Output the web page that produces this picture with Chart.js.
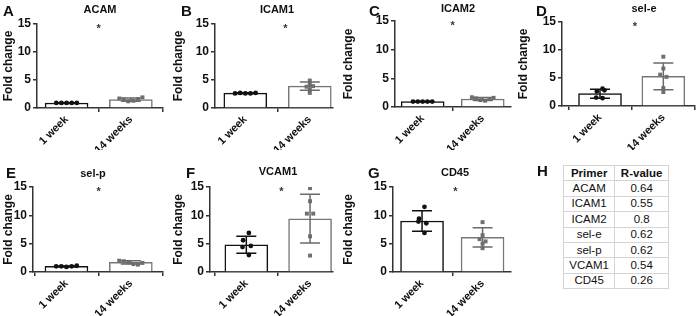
<!DOCTYPE html>
<html>
<head>
<meta charset="utf-8">
<script src="https://cdn.jsdelivr.net/npm/chart.js@4.4.1/dist/chart.umd.min.js"></script>
<style>
body { margin:0; background:#fff; width:699px; height:316px; position:relative; overflow:hidden; font-family:"Liberation Sans", Arial, sans-serif; color:#111; }
.pan { position:absolute; }
.letter { position:absolute; font-weight:bold; font-size:15px; line-height:15px; }
.ttl { position:absolute; font-weight:bold; font-size:11px; transform:translate(-50%,-50%); white-space:nowrap; }
#tbl { position:absolute; left:563px; top:165px; width:106px; border-collapse:collapse; font-size:11.5px; }
#tbl td, #tbl th { border:1px solid #d4d4d4; height:14.4px; padding:0; text-align:center; line-height:13px; }
#tbl th { font-weight:bold; }
</style>
</head>
<body>
<table id="tbl"></table>
<script>
// groupes et axes
var groups = ['1 week', '14 weeks'];
var yTicks = [0, 5, 10, 15];

// A - ACAM
var acamMean = [0.9, 1.5];
var acamSd = [0.05, 0.3];
var acamWk1 = [0.9, 0.9, 0.9, 0.9, 0.9];
var acamWk14 = [1.7, 1.5, 1.2, 1.3, 1.6, 1.9];

// B - ICAM1
var icam1Mean = [2.65, 3.9];
var icam1Sd = [0.08, 0.75];
var icam1Wk1 = [2.6, 2.7, 2.6, 2.6, 2.7];
var icam1Wk14 = [4.9, 4.2, 3.8, 3.9, 3.3, 2.7];

// C - ICAM2
var icam2Mean = [0.95, 1.4];
var icam2Sd = [0.05, 0.25];
var icam2Wk1 = [0.95, 0.95, 0.95, 0.95, 0.95];
var icam2Wk14 = [1.7, 1.5, 1.2, 1.1, 1.4, 1.6];

// D - sel-e
var seleMean = [2.2, 5.3];
var seleSd = [0.8, 2.4];
var seleWk1 = [3.1, 2.6, 2.8, 1.5, 1.4];
var seleWk14 = [8.8, 6.7, 5.6, 5.2, 3.2, 2.5];

// E - sel-p
var selpMean = [1.0, 1.7];
var selpSd = [0.08, 0.3];
var selpWk1 = [1.0, 1.0, 0.9, 1.0, 1.1];
var selpWk14 = [2.0, 1.9, 1.7, 1.4, 1.3, 1.6];

// F - VCAM1
var vcamMean = [4.8, 9.4];
var vcamSd = [1.5, 4.3];
var vcamWk1 = [6.9, 5.6, 4.6, 4.4, 3.0];
var vcamWk14 = [14.8, 12.5, 10.3, 10.3, 6.3, 2.9];

// G - CD45
var cd45Mean = [9.0, 6.1];
var cd45Sd = [1.8, 1.7];
var cd45Wk1 = [11.5, 9.4, 8.6, 8.9, 6.9];
var cd45Wk14 = [8.8, 6.5, 5.8, 5.4, 5.0, 4.2];

// H - tableau
var primers = ['ACAM', 'ICAM1', 'ICAM2', 'sel-e', 'sel-p', 'VCAM1', 'CD45'];
var rValues = ['0.64', '0.55', '0.8', '0.62', '0.62', '0.54', '0.26'];

// décalages horizontaux des points
var rowJit5 = [-0.16, -0.08, 0, 0.08, 0.16];
var rowJit6 = [-0.18, -0.11, -0.04, 0.04, 0.11, 0.18];
var swJit5 = [0.04, -0.05, 0.07, -0.06, 0.04];
var swJit6 = [0, 0, -0.05, 0.05, 0, 0];

var FONT = '"Liberation Sans", Arial, sans-serif';
Chart.defaults.font.family = FONT;
Chart.defaults.color = '#111';

function pts(vals, jit, x0) {
    return vals.map(function(v, i) { return { x: x0 + jit[i], y: v }; });
}

function makePanel(p) {
    var box = p.box, area = p.area;
    var div = document.createElement('div');
    div.className = 'pan';
    div.style.left = box[0] + 'px'; div.style.top = box[1] + 'px';
    div.style.width = box[2] + 'px'; div.style.height = box[3] + 'px';
    var cv = document.createElement('canvas');
    div.appendChild(cv);
    document.body.appendChild(div);

    var lt = document.createElement('div');
    lt.className = 'letter'; lt.textContent = p.letter;
    lt.style.left = p.letterPos[0] + 'px'; lt.style.top = p.letterPos[1] + 'px';
    document.body.appendChild(lt);

    var tt = document.createElement('div');
    tt.className = 'ttl'; tt.textContent = p.title;
    tt.style.left = p.titlePos[0] + 'px'; tt.style.top = p.titlePos[1] + 'px';
    document.body.appendChild(tt);

    // barres d'erreur + astérisque
    var errPlugin = {
        id: 'errbars',
        afterDatasetsDraw: function(chart) {
            var ctx = chart.ctx, xs = chart.scales.x, ys = chart.scales.y;
            ctx.save();
            ctx.lineWidth = 1.5;
            for (var i = 0; i < 2; i++) {
                var cx = xs.getPixelForValue(i);
                var t = ys.getPixelForValue(p.mean[i] + p.sd[i]);
                var b = ys.getPixelForValue(p.mean[i] - p.sd[i]);
                ctx.strokeStyle = i ? '#6a6a6a' : '#111';
                ctx.beginPath();
                ctx.moveTo(cx, t); ctx.lineTo(cx, b);
                ctx.moveTo(cx - 10, t); ctx.lineTo(cx + 10, t);
                ctx.moveTo(cx - 10, b); ctx.lineTo(cx + 10, b);
                ctx.stroke();
            }
            ctx.fillStyle = '#333';
            ctx.font = 'bold 11px ' + FONT;
            ctx.textAlign = 'center';
            ctx.textBaseline = 'middle';
            ctx.fillText('*', xs.getPixelForValue(p.starX), ys.getPixelForValue(14.2));
            ctx.restore();
        }
    };

    new Chart(cv, {
        type: 'bar',
        data: {
            datasets: [{
                type: 'bar',
                data: [{ x: 0, y: p.mean[0] }, { x: 1, y: p.mean[1] }],
                backgroundColor: '#fff',
                borderColor: ['#111', '#777'],
                borderWidth: 1.5,
                borderSkipped: 'bottom',
                barThickness: 43,
                order: 3
            }, {
                type: 'scatter',
                data: pts(p.wk1, p.jit1, 0),
                pointStyle: 'circle',
                pointRadius: 2.4,
                backgroundColor: '#111',
                borderColor: '#111',
                borderWidth: 0,
                order: 1
            }, {
                type: 'scatter',
                data: pts(p.wk14, p.jit14, 1),
                pointStyle: 'rect',
                pointRadius: 2.8,
                backgroundColor: '#6f6f6f',
                borderColor: '#6f6f6f',
                borderWidth: 0,
                order: 2
            }]
        },
        options: {
            responsive: true, maintainAspectRatio: false,
            animation: false,
            layout: { padding: { left: 0, top: area[1] - box[1], right: box[0] + box[2] - area[2], bottom: 0 } },
            plugins: { legend: { display: false }, tooltip: { enabled: false } },
            scales: {
                x: {
                    type: 'linear', min: p.xr[0], max: p.xr[1], offset: false,
                    afterBuildTicks: function(s) { s.ticks = [{ value: 0 }, { value: 1 }]; },
                    afterFit: function(s) { s.height = box[1] + box[3] - area[3]; },
                    ticks: {
                        autoSkip: false, minRotation: 45, maxRotation: 45, padding: 1,
                        font: { size: 11, weight: 'bold' }, color: '#111',
                        callback: function(v) { return groups[v]; }
                    },
                    grid: { drawOnChartArea: false, drawTicks: true, tickLength: 4, color: '#333', lineWidth: 1.5 },
                    border: { color: '#333', width: 1.5 }
                },
                y: {
                    min: 0, max: 15,
                    afterBuildTicks: function(s) { s.ticks = yTicks.map(function(v) { return { value: v }; }); },
                    afterFit: function(s) { s.width = area[0] - box[0]; },
                    ticks: { font: { size: 12, weight: 'bold' }, color: '#111', padding: 2 },
                    grid: { drawOnChartArea: false, drawTicks: true, tickLength: 4, color: '#333', lineWidth: 1.5 },
                    border: { color: '#333', width: 1.5 },
                    title: { display: true, text: 'Fold change', font: { size: 12, weight: 'bold' }, color: '#111', padding: 1 }
                }
            }
        },
        plugins: [errPlugin]
    });
}

makePanel({ letter: 'A', letterPos: [3, 3], title: 'ACAM', titlePos: [100, 9],
    box: [0, 0, 170, 150], area: [37, 24, 163, 108], xr: [-0.46, 1.5],
    mean: acamMean, sd: acamSd, wk1: acamWk1, wk14: acamWk14, jit1: rowJit5, jit14: rowJit6, starX: 0.5 });
makePanel({ letter: 'B', letterPos: [181, 3], title: 'ICAM1', titlePos: [277, 9],
    box: [170, 0, 170, 150], area: [215, 24, 333, 108], xr: [-0.47, 1.36],
    mean: icam1Mean, sd: icam1Sd, wk1: icam1Wk1, wk14: icam1Wk14, jit1: rowJit5, jit14: swJit6, starX: 0.62 });
makePanel({ letter: 'C', letterPos: [369, 3], title: 'ICAM2', titlePos: [458, 8],
    box: [340, 0, 175, 150], area: [395, 21, 521, 107], xr: [-0.46, 1.47],
    mean: icam2Mean, sd: icam2Sd, wk1: icam2Wk1, wk14: icam2Wk14, jit1: rowJit5, jit14: rowJit6, starX: 0.5 });
makePanel({ letter: 'D', letterPos: [536, 3], title: 'sel-e', titlePos: [644, 8],
    box: [515, 0, 184, 150], area: [562, 22, 697, 106], xr: [-0.6, 1.5],
    mean: seleMean, sd: seleSd, wk1: seleWk1, wk14: seleWk14, jit1: swJit5, jit14: swJit6, starX: 0.55 });
makePanel({ letter: 'E', letterPos: [6, 165], title: 'sel-p', titlePos: [93, 173],
    box: [0, 150, 170, 166], area: [33, 187, 163, 272], xr: [-0.52, 1.5],
    mean: selpMean, sd: selpSd, wk1: selpWk1, wk14: selpWk14, jit1: rowJit5, jit14: rowJit6, starX: 0.5 });
makePanel({ letter: 'F', letterPos: [186, 165], title: 'VCAM1', titlePos: [278, 171],
    box: [170, 150, 170, 166], area: [210, 187, 333, 272], xr: [-0.57, 1.36],
    mean: vcamMean, sd: vcamSd, wk1: vcamWk1, wk14: vcamWk14, jit1: swJit5, jit14: swJit6, starX: 0.55 });
makePanel({ letter: 'G', letterPos: [368, 165], title: 'CD45', titlePos: [455, 172],
    box: [340, 150, 175, 166], area: [393, 187, 521, 272], xr: [-0.48, 1.47],
    mean: cd45Mean, sd: cd45Sd, wk1: cd45Wk1, wk14: cd45Wk14, jit1: swJit5, jit14: swJit6, starX: 0.55 });

// lettre H + tableau
var lh = document.createElement('div');
lh.className = 'letter'; lh.textContent = 'H';
lh.style.left = '537px'; lh.style.top = '163px';
document.body.appendChild(lh);

var html = '<tr><th>Primer</th><th>R-value</th></tr>';
primers.forEach(function(pr, i) {
    html += '<tr><td>' + pr + '</td><td>' + rValues[i] + '</td></tr>';
});
document.getElementById('tbl').innerHTML = html;
</script>
</body>
</html>
